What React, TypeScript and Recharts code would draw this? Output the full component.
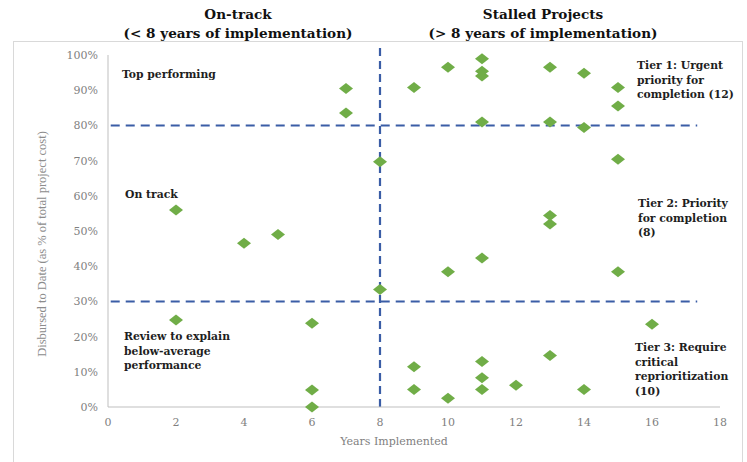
import React from "react";
import {
  ScatterChart,
  Scatter,
  XAxis,
  YAxis,
  ReferenceLine,
  Label,
} from "recharts";

// years implemented for each project and share disbursed (%)
const years = [
  7, 7, 8, 2, 4, 5, 8, 2, 6, 6, 6,
  9, 10, 11, 11, 11, 13, 14, 15, 15, 11, 13, 14,
  15, 13, 13, 11, 10, 15,
  16, 9, 9, 10, 11, 11, 11, 12, 13, 14,
];
const disbursed = [
  90.5, 83.5, 69.7, 56, 46.5, 49, 33.4, 24.7, 23.8, 4.8, 0,
  90.8, 96.5, 98.9, 95.4, 94, 96.5, 94.8, 90.8, 85.5, 81, 81, 79.4,
  70.4, 54.4, 52, 42.3, 38.4, 38.4,
  23.5, 11.4, 5, 2.5, 12.9, 8.3, 5, 6.2, 14.6, 5,
];

const xTicks = [0, 2, 4, 6, 8, 10, 12, 14, 16, 18];
const yTicks = [0, 10, 20, 30, 40, 50, 60, 70, 80, 90, 100];

const points = years.map((x, i) => ({ x, y: disbursed[i] }));

const SERIF = "'DejaVu Serif', 'Liberation Serif', serif";
const NARROW = "'Liberation Serif', serif";
const LINE = "#3a5da6";

const Diamond = (props: any) => {
  const { cx, cy } = props;
  return (
    <polygon
      points={`${cx - 7},${cy} ${cx},${cy - 5.5} ${cx + 7},${cy} ${cx},${cy + 5.5}`}
      fill="#70ad47"
    />
  );
};

const note: React.CSSProperties = {
  position: "absolute",
  fontFamily: SERIF,
  fontWeight: "bold",
  fontSize: 10.8,
  lineHeight: "14.5px",
  color: "#1e1e1e",
  whiteSpace: "nowrap",
};

const title: React.CSSProperties = {
  position: "absolute",
  fontFamily: SERIF,
  fontWeight: "bold",
  fontSize: 13.6,
  lineHeight: "19px",
  color: "#111",
  textAlign: "center",
  width: 300,
};

const tickStyle = { fill: "#7f7f7f", fontSize: 11, fontFamily: SERIF };

export default function App() {
  return (
    <div
      style={{
        position: "absolute",
        left: 0,
        top: 0,
        width: 747,
        height: 462,
        background: "#fff",
        overflow: "hidden",
      }}
    >
      <div
        style={{
          position: "absolute",
          left: 13,
          top: 41,
          width: 728,
          height: 430,
          border: "1px solid #d9d9d9",
        }}
      />
      <div style={{ ...title, left: 88, top: 5 }}>
        On-track
        <br />
        (&lt; 8 years of implementation)
      </div>
      <div style={{ ...title, left: 393, top: 5 }}>
        Stalled Projects
        <br />
        (&gt; 8 years of implementation)
      </div>
      <div style={{ position: "absolute", left: 0, top: 0 }}>
        <ScatterChart
          width={747}
          height={462}
          margin={{ top: 55, right: 27, bottom: 10, left: 0 }}
        >
          <XAxis
            type="number"
            dataKey="x"
            domain={[0, 18]}
            ticks={xTicks}
            height={45}
            axisLine={{ stroke: "#bfbfbf" }}
            tickLine={false}
            tickMargin={5}
            tick={tickStyle}
          >
            <Label
              value="Years Implemented"
              position="center"
              dx={-20}
              dy={12}
              style={{ fill: "#7f7f7f", fontSize: 11, fontFamily: SERIF }}
            />
          </XAxis>
          <YAxis
            type="number"
            dataKey="y"
            domain={[0, 100]}
            ticks={yTicks}
            width={108}
            axisLine={{ stroke: "#bfbfbf" }}
            tickLine={false}
            tickMargin={4}
            tickFormatter={(v) => `${v}%`}
            tick={tickStyle}
          />
          <ReferenceLine
            segment={[{ x: 0.08, y: 80 }, { x: 17.33, y: 80 }]}
            stroke={LINE}
            strokeWidth={2}
            strokeDasharray="9 6"
            ifOverflow="visible"
          />
          <ReferenceLine
            segment={[{ x: 0.08, y: 30 }, { x: 17.33, y: 30 }]}
            stroke={LINE}
            strokeWidth={2}
            strokeDasharray="9 6"
            ifOverflow="visible"
          />
          <ReferenceLine
            segment={[{ x: 8, y: 0 }, { x: 8, y: 102.5 }]}
            stroke={LINE}
            strokeWidth={2.2}
            strokeDasharray="8 5"
            ifOverflow="visible"
          />
          <Scatter data={points} shape={Diamond} isAnimationActive={false} />
        </ScatterChart>
      </div>
      <div
        style={{
          position: "absolute",
          left: 42,
          top: 244,
          width: 300,
          textAlign: "center",
          fontFamily: NARROW,
          fontSize: 12.5,
          color: "#8c8c8c",
          whiteSpace: "nowrap",
          transform: "translate(-50%, -50%) rotate(-90deg)",
        }}
      >
        Disbursed to Date (as % of total project cost)
      </div>
      <div style={{ ...note, left: 122, top: 68 }}>Top performing</div>
      <div style={{ ...note, left: 125, top: 188 }}>On track</div>
      <div style={{ ...note, left: 124, top: 330 }}>
        Review to explain
        <br />
        below-average
        <br />
        performance
      </div>
      <div style={{ ...note, left: 637, top: 59 }}>
        Tier 1: Urgent
        <br />
        priority for
        <br />
        completion (12)
      </div>
      <div style={{ ...note, left: 638, top: 197 }}>
        Tier 2: Priority
        <br />
        for completion
        <br />
        (8)
      </div>
      <div style={{ ...note, left: 635, top: 341 }}>
        Tier 3: Require
        <br />
        critical
        <br />
        reprioritization
        <br />
        (10)
      </div>
    </div>
  );
}
